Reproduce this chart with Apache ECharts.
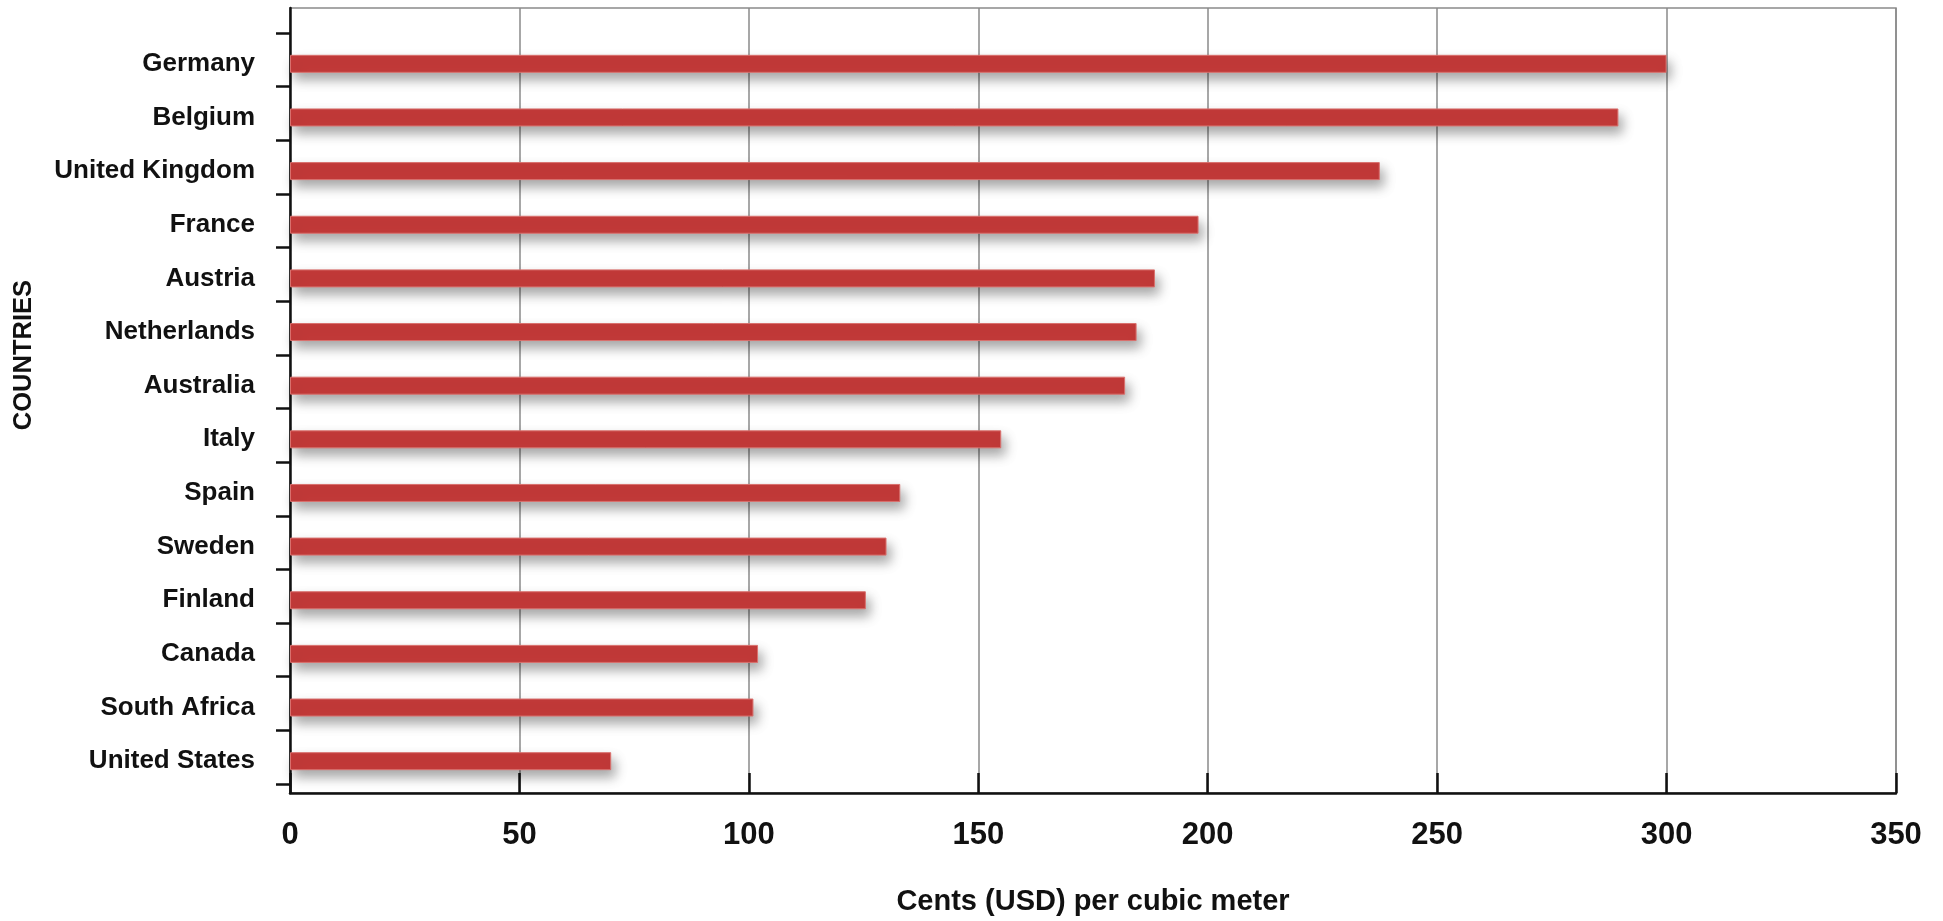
<!DOCTYPE html>
<html>
<head>
<meta charset="utf-8">
<script src="https://cdn.jsdelivr.net/npm/echarts@6/dist/echarts.min.js"></script>
<style>
html,body{margin:0;padding:0;background:#fff;}
#chart{width:1943px;height:921px;}
</style>
</head>
<body>
<div id="chart"></div>
<script>
const countries = ["Germany","Belgium","United Kingdom","France","Austria","Netherlands","Australia","Italy","Spain","Sweden","Finland","Canada","South Africa","United States"];
const centsPerCubicMeter = [300,289.5,237.5,198,188.5,184.5,182,155,133,130,125.5,102,101,70];
const xTicks = {min:0, max:350, interval:50};
const xTitle = "Cents (USD) per cubic meter";
const yTitle = "COUNTRIES";

const FONT = '"Liberation Sans",Arial,Helvetica,sans-serif';
const chart = echarts.init(document.getElementById('chart'), null, {renderer:'canvas'});
const L = 290, R = 47;
chart.setOption({
  backgroundColor:'#ffffff',
  animation:false,
  grid:[
    {left:L, right:R, top:8, bottom:111, show:true, borderColor:'#8a8a8a', borderWidth:1.5, containLabel:false},
    {left:L, right:R, top:33, bottom:137, containLabel:false},
    {left:L, right:R, top:37, bottom:133, containLabel:false}
  ],
  xAxis:[
    {gridIndex:0, type:'value', min:xTicks.min, max:xTicks.max, interval:xTicks.interval,
     axisLine:{show:true, lineStyle:{color:'#111', width:2.5}},
     axisTick:{show:true, inside:true, length:20, lineStyle:{color:'#111', width:2.5}},
     splitLine:{show:true, lineStyle:{color:'#8a8a8a', width:1.5}},
     axisLabel:{show:true, margin:27, color:'#111', fontFamily:FONT, fontWeight:'bold', fontSize:31},
     name:xTitle, nameLocation:'middle', nameGap:94,
     nameTextStyle:{color:'#111', fontFamily:FONT, fontWeight:'bold', fontSize:29}},
    {gridIndex:1, type:'value', min:xTicks.min, max:xTicks.max, show:false},
    {gridIndex:2, type:'value', min:xTicks.min, max:xTicks.max, show:false}
  ],
  yAxis:[
    {gridIndex:0, type:'value', min:0, max:1,
     axisLine:{show:true, onZero:false, lineStyle:{color:'#111', width:2.5}},
     axisTick:{show:false}, axisLabel:{show:false}, splitLine:{show:false}},
    {gridIndex:1, type:'category', inverse:true, data:countries, boundaryGap:true,
     axisLine:{show:false},
     axisTick:{show:true, inside:false, length:14, lineStyle:{color:'#111', width:2.5}},
     axisLabel:{show:false},
     splitLine:{show:false}},
    {gridIndex:2, type:'category', inverse:true, data:countries,
     axisLine:{show:false}, axisTick:{show:false},
     axisLabel:{show:true, margin:35, color:'#111', fontFamily:FONT, fontWeight:'bold', fontSize:26},
     splitLine:{show:false}}
  ],
  graphic:[
    {type:'text', left:11, top:280, rotation:Math.PI/2, silent:true,
     style:{text:yTitle, fill:'#111', font:'bold 25.5px ' + FONT}}
  ],
  series:[
    {type:'bar', xAxisIndex:2, yAxisIndex:2, data:centsPerCubicMeter, barWidth:18,
     itemStyle:{color:'#c43a39', borderColor:'#d9706d', borderWidth:1,
       shadowColor:'rgba(0,0,0,0.35)', shadowBlur:12, shadowOffsetX:4, shadowOffsetY:7}}
  ]
});
</script>
</body>
</html>
